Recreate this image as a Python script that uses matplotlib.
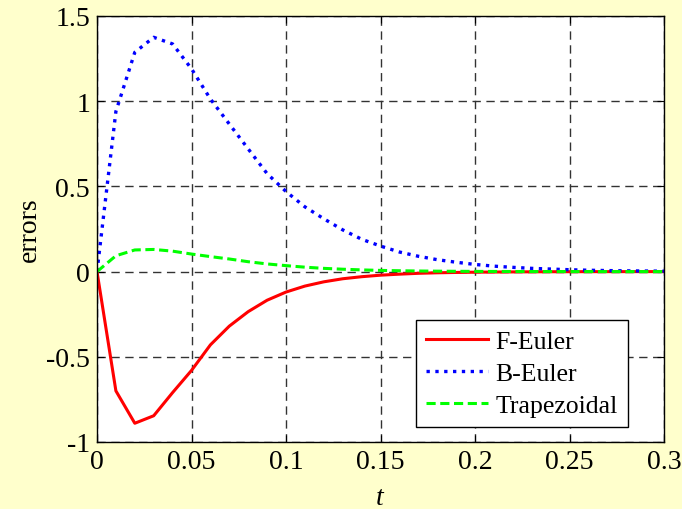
import numpy as np
import matplotlib.pyplot as plt

# time grid (step 0.01) and error curves
t = np.round(np.arange(0, 0.301, 0.01), 2)

f_euler = [0, -0.70, -0.89, -0.846, -0.71, -0.58, -0.43, -0.32, -0.235, -0.168,
           -0.12, -0.085, -0.06, -0.042, -0.03, -0.021, -0.015, -0.01, -0.007, -0.005,
           -0.0035, -0.0025, -0.0018, -0.0012, -0.0008, -0.0006, -0.0004, -0.0003, -0.0002, -0.0001,
           0]
b_euler = [0, 0.94, 1.287, 1.375, 1.336, 1.19, 1.013, 0.866, 0.72, 0.575,
           0.47, 0.38, 0.31, 0.245, 0.19, 0.15, 0.115, 0.09, 0.07, 0.055,
           0.042, 0.032, 0.025, 0.019, 0.015, 0.011, 0.008, 0.006, 0.0045, 0.0035,
           0.0025]
trapez = [0, 0.093, 0.127, 0.13, 0.12, 0.103, 0.088, 0.074, 0.058, 0.045,
          0.035, 0.026, 0.019, 0.014, 0.01, 0.007, 0.005, 0.0035, 0.0025, 0.0018,
          0.0012, 0.0009, 0.0006, 0.0004, 0.0003, 0.0002, 0.0001, 0.0001, 0, 0,
          0]

xticks = [0, 0.05, 0.1, 0.15, 0.2, 0.25, 0.3]
xticklabels = ['0', '0.05', '0.1', '0.15', '0.2', '0.25', '0.3']
yticks = [-1, -0.5, 0, 0.5, 1, 1.5]
yticklabels = ['-1', '-0.5', '0', '0.5', '1', '1.5']

plt.rcParams['font.family'] = ['Liberation Serif', 'DejaVu Serif']
plt.rcParams['mathtext.fontset'] = 'custom'
plt.rcParams['mathtext.it'] = 'Liberation Serif:italic'

bg = '#FFFFCC'
fig = plt.figure(figsize=(6.82, 5.10), dpi=100, facecolor=bg)
ax = fig.add_axes([97 / 682, 1 - 443 / 510, (664 - 97) / 682, (443 - 17) / 510])
ax.set_facecolor('white')

ax.plot(t, f_euler, color='red', linestyle='-', linewidth=2.2, label='F-Euler')
ax.plot(t, b_euler, color='blue', linestyle=':', linewidth=2.4, label='B-Euler')
ax.plot(t, trapez, color='#00FF00', linestyle='--', linewidth=2.2, dashes=(3, 1.5), label='Trapezoidal')

ax.set_xlim(0, 0.3)
ax.set_ylim(-1, 1.5)
ax.set_xticks(xticks)
ax.set_xticklabels(xticklabels)
ax.set_yticks(yticks)
ax.set_yticklabels(yticklabels)
ax.tick_params(direction='in', top=True, right=True, labelsize=20, length=5, pad=5)
ax.grid(True, color='#333333', linestyle=(0, (6, 4)), linewidth=1)
for s in ax.spines.values():
    s.set_linewidth(1)

ax.set_xlabel('$t$', fontsize=20, labelpad=8)
ax.set_ylabel('errors', fontsize=20, labelpad=3)

leg = ax.legend(loc='lower right', bbox_to_anchor=(0.9365, 0.035), fontsize=18.5,
                fancybox=False, framealpha=1, edgecolor='black', handlelength=2.4,
                borderpad=0.4, borderaxespad=0, labelspacing=0.35, handletextpad=0.3)
leg.get_frame().set_linewidth(1)

plt.savefig('out.png', dpi=100, facecolor=bg)
